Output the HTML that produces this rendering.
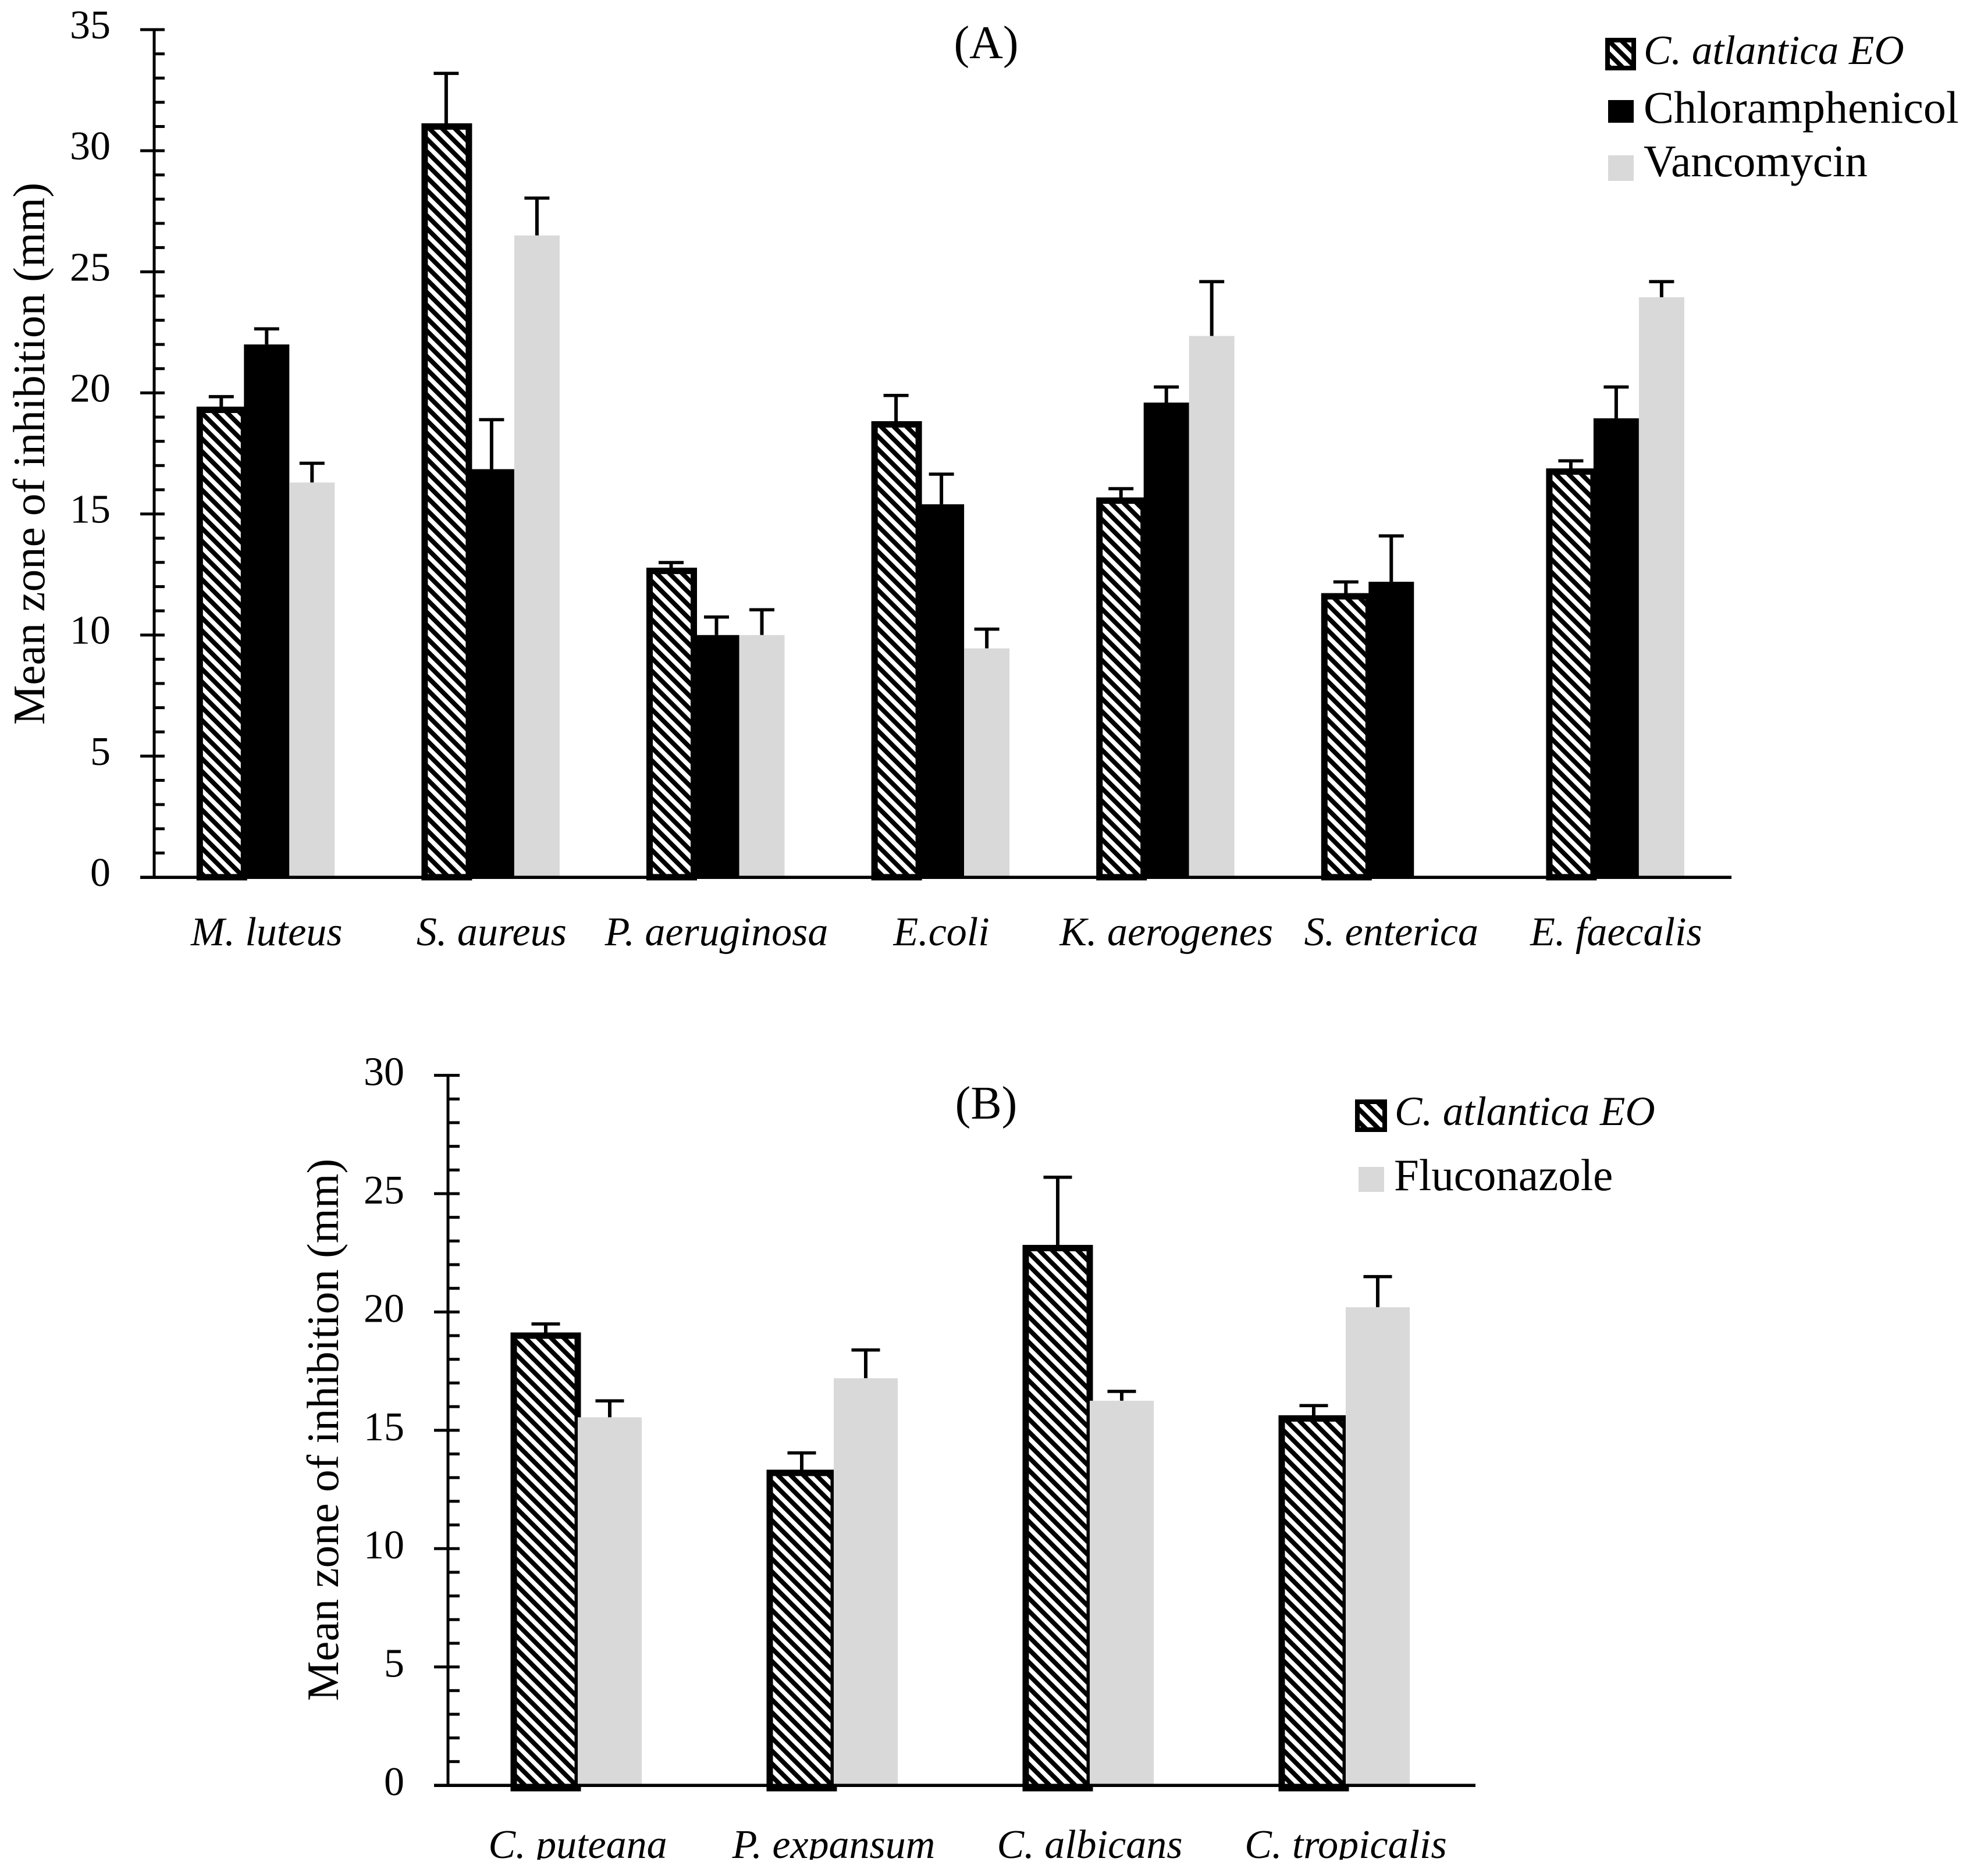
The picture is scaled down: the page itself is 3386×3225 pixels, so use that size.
<!DOCTYPE html>
<html lang="en">
<head>
<meta charset="utf-8">
<title>Mean zone of inhibition charts</title>
<style>
html,body{margin:0;padding:0;background:#fff;}
svg{display:block;}
text{font-family:"Liberation Serif",serif;fill:#000;}
.it{font-style:italic;}
</style>
</head>
<body>
<svg id="figure" xmlns="http://www.w3.org/2000/svg" width="3386" height="3225" viewBox="0 0 3386 3225">
  <defs>
    <pattern id="hatch" patternUnits="userSpaceOnUse" width="22" height="22">
      <rect width="22" height="22" fill="#000"></rect>
      <path d="M-5,-5L27,27M-5,17L5,27M17,-5L27,5" stroke="#fff" stroke-width="7.6"></path>
    </pattern>
  </defs>
  <rect width="3386" height="3225" fill="#fff"></rect>
  <g id="chartA"></g>
  <g id="chartB"></g>

  <text x="1695" y="100" font-size="80" text-anchor="middle">(A)</text>
  <text transform="translate(76,780) rotate(-90)" font-size="77" text-anchor="middle">Mean zone of inhibition (mm)</text>

  <g>
    <rect x="2763" y="69" width="45" height="48" fill="url(#hatch)" stroke="#000" stroke-width="8"></rect>
    <text class="it" x="2825" y="110" font-size="71">C. atlantica EO</text>
    <rect x="2764" y="172" width="44" height="39" fill="#000"></rect>
    <text x="2825" y="211" font-size="78">Chloramphenicol</text>
    <rect x="2764" y="267" width="44" height="44" fill="#d9d9d9"></rect>
    <text x="2825" y="303" font-size="77">Vancomycin</text>
  </g>

  <text x="1695" y="1923" font-size="80" text-anchor="middle">(B)</text>
  <text transform="translate(581,2458) rotate(-90)" font-size="77" text-anchor="middle">Mean zone of inhibition (mm)</text>

  <g>
    <rect x="2333" y="1894" width="47" height="48" fill="url(#hatch)" stroke="#000" stroke-width="8"></rect>
    <text class="it" x="2397" y="1934" font-size="71">C. atlantica EO</text>
    <rect x="2335" y="2006" width="44" height="43" fill="#d9d9d9"></rect>
    <text x="2396" y="2046" font-size="77">Fluconazole</text>
  </g>
</svg>
<script>
var categoriesA = ["M. luteus","S. aureus","P. aeruginosa","E.coli","K. aerogenes","S. enterica","E. faecalis"];
var eoValuesA = [19.3,31.0,12.65,18.7,15.55,11.6,16.75];
var eoErrorsA = [0.55,2.2,0.35,1.2,0.5,0.6,0.45];
var chloramphenicolValuesA = [22.0,16.85,10.0,15.4,19.6,12.2,18.95];
var chloramphenicolErrorsA = [0.65,2.05,0.75,1.25,0.65,1.9,1.3];
var vancomycinValuesA = [16.3,26.5,10.0,9.45,22.35,null,23.95];
var vancomycinErrorsA = [0.8,1.55,1.05,0.8,2.25,null,0.65];
var yTicksA = [0,5,10,15,20,25,30,35];

var categoriesB = ["C. puteana","P. expansum","C. albicans","C. tropicalis"];
var eoValuesB = [19.0,13.2,22.7,15.5];
var eoErrorsB = [0.5,0.85,3.0,0.55];
var fluconazoleValuesB = [15.55,17.2,16.25,20.2];
var fluconazoleErrorsB = [0.7,1.2,0.4,1.3];
var yTicksB = [0,5,10,15,20,25,30];

var SVGNS = "http://www.w3.org/2000/svg";
function make(tag, parent, attrs){
  var el = document.createElementNS(SVGNS, tag);
  for (var k in attrs) el.setAttribute(k, attrs[k]);
  parent.appendChild(el);
  return el;
}

function drawChart(opt){
  var g = document.getElementById(opt.id);
  function y(v){ return opt.y0 - v * opt.pxPerUnit; }
  function xCenter(i){ return opt.bandStart + opt.bandWidth * (i + 0.5); }
  var groupW = opt.barW * opt.series.length;

  opt.series.forEach(function(s, si){
    s.values.forEach(function(v, i){
      if (v === null) return;
      var left = xCenter(i) - groupW / 2 + si * opt.barW;
      var top = y(v);
      var cx = left + opt.barW / 2;
      if (s.errors[i] !== null) {
        var errTop = y(v + s.errors[i]);
        var stem = make("rect", g, {x: cx - 3, y: errTop, width: 6, height: top - errTop, fill: "#000"});
        
        
        var cap = make("rect", g, {x: cx - opt.capW / 2, y: errTop - 2.5, width: opt.capW, height: 5.5, fill: "#000"});
        
        
      }
      var bar;
      if (s.hatched) {
        bar = make("rect", g, {x: left + opt.hatchInset, y: top, width: opt.barW - opt.hatchInset, height: opt.y0 + opt.hatchDrop - top, fill: "url(#hatch)", stroke: "#000", "stroke-width": opt.hatchStroke});
      } else {
        bar = make("rect", g, {x: left, y: top, width: opt.barW, height: opt.y0 - top, fill: s.color});
      }
      
      
    });
  });

  opt.ticks.forEach(function(t, ti){
    var major = make("rect", g, {x: opt.axisX - opt.majorLeft, y: y(t) - 2.5, width: opt.majorLeft + opt.tickRight, height: 5, fill: "#000"});
    
    
    var label = make("text", g, {x: opt.labelRight, y: y(t) - opt.labelLift + 17, "font-size": 70, "text-anchor": "end"});
    
    
    label.textContent = String(t);
    if (ti < opt.ticks.length - 1) {
      var step = (opt.ticks[ti + 1] - t) / 5;
      for (var m = 1; m < 5; m++) {
        var minor = make("rect", g, {x: opt.axisX, y: y(t + m * step) - 2.5, width: opt.tickRight, height: 5, fill: "#000"});
        
        
      }
    }
  });

  var top = y(opt.ticks[opt.ticks.length - 1]);
  var yAxis = make("rect", g, {x: opt.axisX - 2.5, y: top, width: 5, height: opt.y0 - top, fill: "#000"});
  
  
  var xAxis = make("rect", g, {x: opt.axisX - opt.majorLeft, y: opt.y0 - 2.5, width: opt.axisEnd - opt.axisX + opt.majorLeft, height: 5.5, fill: "#000"});
  
  

  opt.categories.forEach(function(c, i){
    var t = make("text", g, {x: xCenter(i), y: opt.catBaseline, "font-size": 70, "text-anchor": "middle", "class": "it"});
    
    
    t.textContent = c;
  });
}

drawChart({
  id: "chartA", y0: 1508, pxPerUnit: 41.63, axisX: 265, axisEnd: 2976,
  bandStart: 265, bandWidth: 386.6, barW: 78, capW: 43,
  hatchInset: 2, hatchDrop: 0, hatchStroke: 11,
  majorLeft: 24, tickRight: 18, labelRight: 190, labelLift: 2, catBaseline: 1625,
  categories: categoriesA, ticks: yTicksA,
  series: [
    {values: eoValuesA, errors: eoErrorsA, hatched: true},
    {values: chloramphenicolValuesA, errors: chloramphenicolErrorsA, color: "#000"},
    {values: vancomycinValuesA, errors: vancomycinErrorsA, color: "#d9d9d9"}
  ]
});

drawChart({
  id: "chartB", y0: 3069, pxPerUnit: 40.68, axisX: 770, axisEnd: 2536,
  bandStart: 773, bandWidth: 440, barW: 110, capW: 49,
  hatchInset: 0, hatchDrop: 5, hatchStroke: 11,
  majorLeft: 24, tickRight: 20, labelRight: 695, labelLift: 0, catBaseline: 3194,
  categories: categoriesB, ticks: yTicksB,
  series: [
    {values: eoValuesB, errors: eoErrorsB, hatched: true},
    {values: fluconazoleValuesB, errors: fluconazoleErrorsB, color: "#d9d9d9"}
  ]
});

var fig = document.getElementById("figure");
var crop = make("rect", fig, {x: 0, y: 3197, width: 3386, height: 28, fill: "#fff"});


</script>
</body>
</html>
